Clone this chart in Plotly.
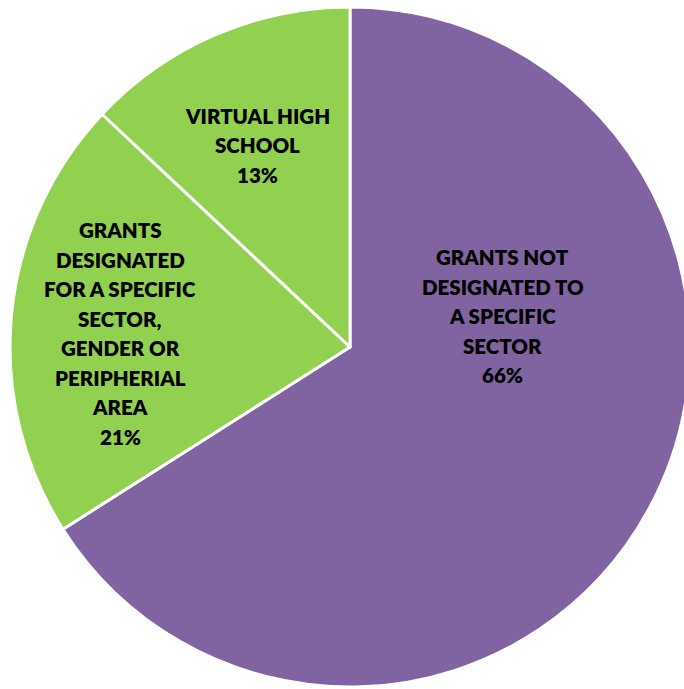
import plotly.graph_objects as go

# Funding breakdown
labels = [
    "GRANTS NOT DESIGNATED TO A SPECIFIC SECTOR",
    "GRANTS DESIGNATED FOR A SPECIFIC SECTOR, GENDER OR PERIPHERIAL AREA",
    "VIRTUAL HIGH SCHOOL",
]
values = [66, 21, 13]
colors = ["#8064A2", "#92D050", "#92D050"]

# Wrapped label lines drawn inside each slice
label_lines = [
    ["GRANTS NOT", "DESIGNATED TO", "A SPECIFIC", "SECTOR"],
    ["GRANTS", "DESIGNATED", "FOR A SPECIFIC", "SECTOR,", "GENDER OR", "PERIPHERIAL", "AREA"],
    ["VIRTUAL HIGH", "SCHOOL"],
]

W, H = 700, 689
cx, cy, r = 350, 347, 340  # pie centre / radius in pixels (top-left origin)

fig = go.Figure(
    go.Pie(
        labels=labels,
        values=values,
        marker=dict(colors=colors, line=dict(color="white", width=3)),
        sort=False,
        direction="clockwise",
        rotation=0,
        textinfo="none",
        hoverinfo="label+percent",
        showlegend=False,
        domain=dict(
            x=[0, 1],
            y=[(H - cy - r) / H, (H - cy + r) / H],
        ),
    )
)

# label block placement: (centre x, first line y) in pixels
anchors = [(503, 257), (120, 230), (257, 116)]
pitch = 29.5
font = dict(family="Lato", size=20.5, color="#000000", weight=800)

annotations = []
for lines, val, (ax, ay) in zip(label_lines, values, anchors):
    for i, t in enumerate(lines + [f"{val}%"]):
        annotations.append(
            dict(
                x=ax / W,
                y=1 - (ay + i * pitch) / H,
                xref="paper",
                yref="paper",
                text=t,
                showarrow=False,
                xanchor="center",
                yanchor="middle",
                font=font,
            )
        )

fig.update_layout(
    width=W,
    height=H,
    margin=dict(l=0, r=0, t=0, b=0),
    paper_bgcolor="white",
    plot_bgcolor="white",
    annotations=annotations,
)

fig.write_html(
    "out.html",
    post_script="document.body.style.margin='0';document.body.style.overflow='hidden';",
)
